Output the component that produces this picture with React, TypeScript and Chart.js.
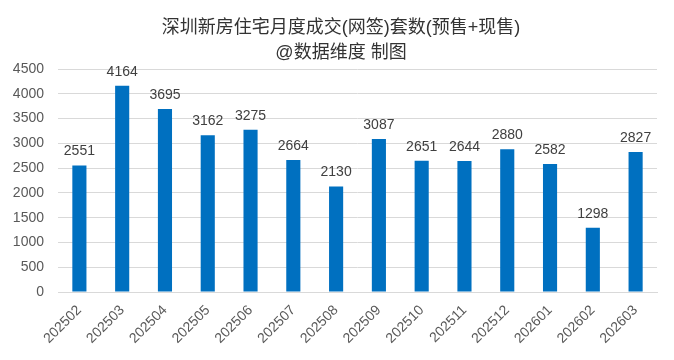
import React, { useEffect, useRef } from "react";
import { Chart, registerables } from "chart.js";

Chart.register(...registerables);

const categories = ["202502","202503","202504","202505","202506","202507","202508","202509","202510","202511","202512","202601","202602","202603"];
const values = [2551,4164,3695,3162,3275,2664,2130,3087,2651,2644,2880,2582,1298,2827];
const titleLines = ["深圳新房住宅月度成交(网签)套数(预售+现售)", "@数据维度 制图"];

const FONT = "'Liberation Sans', Arial, 'Noto Sans CJK SC', sans-serif";

const labelPlugin = {
  id: "barLabels",
  afterDatasetsDraw(chart: any) {
    const ctx = chart.ctx;
    const meta = chart.getDatasetMeta(0);
    ctx.save();
    ctx.font = `14px ${FONT}`;
    ctx.fillStyle = "#404040";
    ctx.textAlign = "center";
    ctx.textBaseline = "bottom";
    meta.data.forEach((el: any, i: number) => {
      ctx.fillText(String(values[i]), el.x, el.y - 7);
    });
    ctx.restore();
  },
};

const titlePlugin = {
  id: "customTitle",
  afterDraw(chart: any) {
    const ctx = chart.ctx;
    ctx.save();
    ctx.font = `18px ${FONT}`;
    ctx.fillStyle = "#333333";
    ctx.textAlign = "center";
    ctx.textBaseline = "middle";
    titleLines.forEach((line, i) => {
      ctx.fillText(line, 341, 28 + i * 25);
    });
    ctx.restore();
  },
};

export default function App() {
  const ref = useRef<HTMLCanvasElement>(null);
  useEffect(() => {
    const chart = new Chart(ref.current!, {
      type: "bar",
      data: {
        labels: categories,
        datasets: [{
          data: values,
          backgroundColor: "#0070C0",
          barPercentage: 0.33,
          categoryPercentage: 1,
        }],
      },
      options: {
        animation: false,
        responsive: false,
        layout: { padding: { left: 8, right: 17, top: 69, bottom: 11 } },
        plugins: {
          legend: { display: false },
          tooltip: { enabled: false },
          title: { display: false },
        },
        scales: {
          x: {
            grid: { display: false },
            border: { color: "#d9d9d9" },
            ticks: { color: "#595959", font: { size: 14, family: FONT }, minRotation: 45, maxRotation: 45, padding: 2 },
          },
          y: {
            min: 0,
            max: 4500,
            border: { display: false },
            grid: { color: "#d9d9d9", drawTicks: false },
            ticks: {
              stepSize: 500,
              color: "#595959",
              font: { size: 14, family: FONT },
              padding: 14,
              callback: (v: any) => String(v),
            },
            afterFit(scale: any) { scale.width = 50; },
          },
        },
      },
      plugins: [labelPlugin, titlePlugin],
    });
    return () => chart.destroy();
  }, []);
  return (
    <div style={{ position: "fixed", left: 0, top: 0, width: 674, height: 360, background: "#fff" }}>
      <canvas ref={ref} width={674} height={360} />
    </div>
  );
}
